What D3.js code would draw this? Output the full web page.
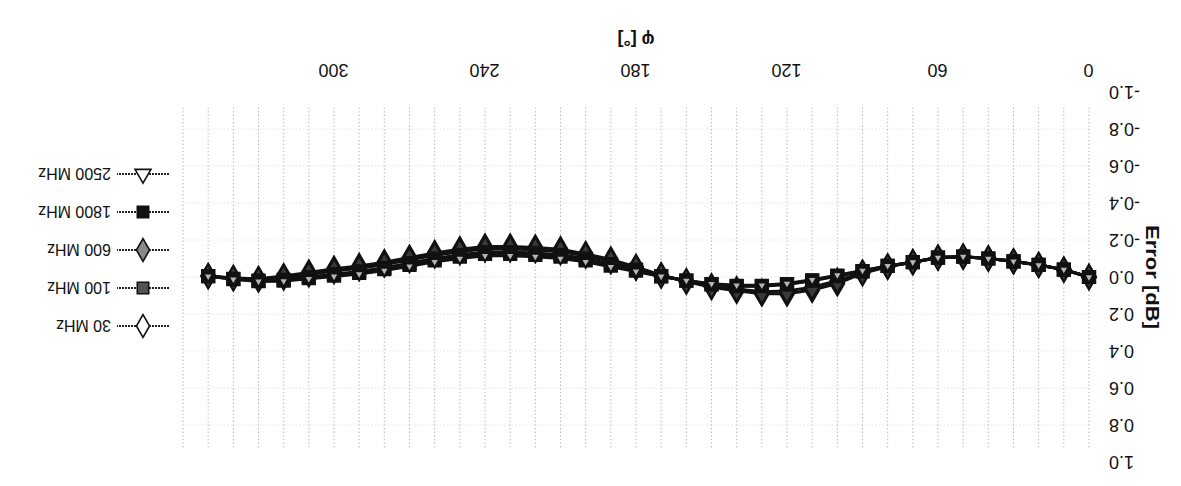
<!DOCTYPE html>
<html>
<head>
<meta charset="utf-8">
<script src="https://cdn.jsdelivr.net/npm/d3@7"></script>
<style>
  html, body { margin: 0; padding: 0; background: #fff; }
  svg { display: block; }
  text { font-family: "Liberation Sans", Arial, sans-serif; fill: #111; }
</style>
</head>
<body>
<svg id="chart" width="1181" height="486"></svg>
<script>
// ---- data ----
const angles = [0,10,20,30,40,50,60,70,80,90,100,110,120,130,140,150,160,170,
                180,190,200,210,220,230,240,250,260,270,280,290,300,310,320,330,340,350];

const err30 = [0.00,-0.04,-0.065,-0.085,-0.10,-0.11,-0.105,-0.08,-0.055,-0.02,0.035,0.07,0.09,0.09,0.075,0.055,0.025,-0.01,
               -0.055,-0.095,-0.125,-0.15,-0.16,-0.165,-0.165,-0.15,-0.13,-0.105,-0.08,-0.06,-0.045,-0.025,-0.005,0.01,0.005,-0.005];
const err100 = [0.00,-0.04,-0.065,-0.085,-0.10,-0.11,-0.105,-0.08,-0.06,-0.03,-0.005,0.02,0.04,0.05,0.05,0.04,0.02,-0.005,
                -0.04,-0.07,-0.10,-0.12,-0.13,-0.135,-0.135,-0.12,-0.10,-0.075,-0.05,-0.03,-0.015,0.0,0.015,0.02,0.01,-0.005];
const err600 = [0.00,-0.04,-0.065,-0.085,-0.10,-0.11,-0.105,-0.08,-0.058,-0.025,0.02,0.055,0.075,0.08,0.065,0.05,0.022,-0.008,
                -0.05,-0.085,-0.115,-0.137,-0.147,-0.152,-0.152,-0.137,-0.117,-0.092,-0.067,-0.047,-0.032,-0.014,0.004,0.014,0.007,-0.005];
const err1800 = [0.00,-0.04,-0.065,-0.085,-0.10,-0.11,-0.105,-0.08,-0.06,-0.032,-0.007,0.018,0.038,0.048,0.048,0.039,0.02,-0.004,
                 -0.035,-0.062,-0.09,-0.11,-0.12,-0.125,-0.125,-0.11,-0.09,-0.066,-0.042,-0.022,-0.008,0.006,0.02,0.022,0.011,-0.005];
const err2500 = [0.00,-0.04,-0.065,-0.085,-0.10,-0.11,-0.105,-0.08,-0.06,-0.035,-0.01,0.015,0.035,0.045,0.045,0.037,0.019,-0.003,
                 -0.03,-0.055,-0.082,-0.10,-0.11,-0.115,-0.115,-0.10,-0.082,-0.058,-0.035,-0.016,-0.003,0.01,0.022,0.024,0.012,-0.004];

const seriesNames = ["30 MHz","100 MHz","600 MHz","1800 MHz","2500 MHz"];
const seriesValues = [err30, err100, err600, err1800, err2500];

const xTickValues = [0,60,120,180,240,300];
const yTickValues = [-1.0,-0.8,-0.6,-0.4,-0.2,0.0,0.2,0.4,0.6,0.8,1.0];
const xGridValues = [0,10,20,30,40,50,60,70,80,90,100,110,120,130,140,150,160,170,180,
                     190,200,210,220,230,240,250,260,270,280,290,300,310,320,330,340,350,360];
const xTitle = "\u03C6 [\u00B0]";
const yTitle = "Error [dB]";

// ---- styling per series ----
const markerStyle = {
  "30 MHz":   {shape: "diamond",  fill: "#ffffff", plotFill: "#2a2a2a", size: 170, legSize: 150, order: 0},
  "100 MHz":  {shape: "square",   fill: "#555555", plotFill: "#333333", size: 150, legSize: 130, order: 2},
  "600 MHz":  {shape: "diamond",  fill: "#8a8a8a", plotFill: "#3a3a3a", size: 170, legSize: 150, order: 1},
  "1800 MHz": {shape: "square",   fill: "#111111", plotFill: "#111111", size: 150, legSize: 130, order: 3},
  "2500 MHz": {shape: "triangle", fill: "#ffffff", plotFill: "#b5b5b5", size: 42,  legSize: 110, order: 4}
};
const symType = {diamond: d3.symbolDiamond, square: d3.symbolSquare, triangle: d3.symbolTriangle};

const svg = d3.select("#chart");
// whole figure is shown upside down, as in the scanned reference
const root = svg.append("g").attr("transform", "rotate(180 590.5 243)");

const x = d3.scaleLinear().domain([0, 360]).range([92, 998]);
const y = d3.scaleLinear().domain([-1, 1]).range([394, 24]);

// grid
const grid = root.append("g").attr("stroke", "#8c8c8c").attr("stroke-width", 1)
  .attr("stroke-dasharray", "1.2,2.4").attr("opacity", 0.7);
grid.selectAll("line.v").data(xGridValues).join("line").attr("class", "v")
  .attr("x1", d => x(d)).attr("x2", d => x(d)).attr("y1", y(0.92)).attr("y2", y(-0.92));
grid.selectAll("line.h").data(yTickValues.filter(v => Math.abs(v) < 1)).join("line").attr("class", "h")
  .attr("x1", x(0)).attr("x2", x(360)).attr("y1", d => y(d)).attr("y2", d => y(d))
  .attr("opacity", 0.35);

// axes
const fmt = v => d3.format(".1f")(v).replace("\u2212", "-");
const xAxis = root.append("g").attr("transform", `translate(0,${y(-1)})`)
  .call(d3.axisBottom(x).tickValues(xTickValues).tickSize(0).tickPadding(15).tickFormat(d3.format("d")));
xAxis.select(".domain").remove();
xAxis.selectAll("text").style("font-size", "18px").style("font-family", "Liberation Sans, Arial, sans-serif").attr("fill", "#111");

const yAxis = root.append("g").attr("transform", `translate(${x(0)},0)`)
  .call(d3.axisLeft(y).tickValues(yTickValues).tickSize(0).tickPadding(20).tickFormat(fmt));
yAxis.select(".domain").remove();
yAxis.selectAll("text").style("font-size", "18px").style("font-family", "Liberation Sans, Arial, sans-serif").attr("fill", "#111");

// titles
root.append("text").attr("x", (x(0) + x(360)) / 2).attr("y", 452)
  .attr("text-anchor", "middle").style("font-size", "18px").style("font-weight", "bold")
  .text(xTitle);
root.append("text").attr("transform", `translate(35,${y(0)}) rotate(-90)`)
  .attr("text-anchor", "middle").style("font-size", "19px").style("font-weight", "bold")
  .attr("textLength", 104).attr("lengthAdjust", "spacingAndGlyphs")
  .text(yTitle);

// series
const line = d3.line().x((d, i) => x(angles[i])).y(d => y(d));
const lineLayer = root.append("g");
const markLayer = root.append("g");
seriesNames.forEach((name, k) => {
  lineLayer.append("path").datum(seriesValues[k]).attr("d", line).attr("fill", "none")
    .attr("stroke", "#111").attr("stroke-width", 3);
});
seriesNames
  .map((name, k) => ({name, k}))
  .sort((a, b) => markerStyle[a.name].order - markerStyle[b.name].order)
  .forEach(({name, k}) => {
    const st = markerStyle[name];
    markLayer.append("g").selectAll("path").data(seriesValues[k]).join("path")
      .attr("transform", (d, i) => `translate(${x(angles[i])},${y(d)})`)
      .attr("d", d3.symbol().type(symType[st.shape]).size(st.size))
      .attr("fill", st.plotFill).attr("stroke", "#111").attr("stroke-width", 2);
  });

// legend
const legY = [160, 198, 236, 274, 312];
const leg = root.append("g");
seriesNames.forEach((name, k) => {
  const st = markerStyle[name];
  const gy = legY[k];
  leg.append("line").attr("x1", 1012).attr("x2", 1064).attr("y1", gy).attr("y2", gy)
    .attr("stroke", "#222").attr("stroke-width", 1.8).attr("stroke-dasharray", "2,1");
  leg.append("path").attr("transform", `translate(1038,${gy})`)
    .attr("d", d3.symbol().type(symType[st.shape]).size(st.legSize))
    .attr("fill", st.fill).attr("stroke", "#111").attr("stroke-width", 1.6);
  leg.append("text").attr("x", 1070).attr("y", gy).attr("dy", "0.35em")
    .style("font-size", "16px").text(name);
});
</script>
</body>
</html>
